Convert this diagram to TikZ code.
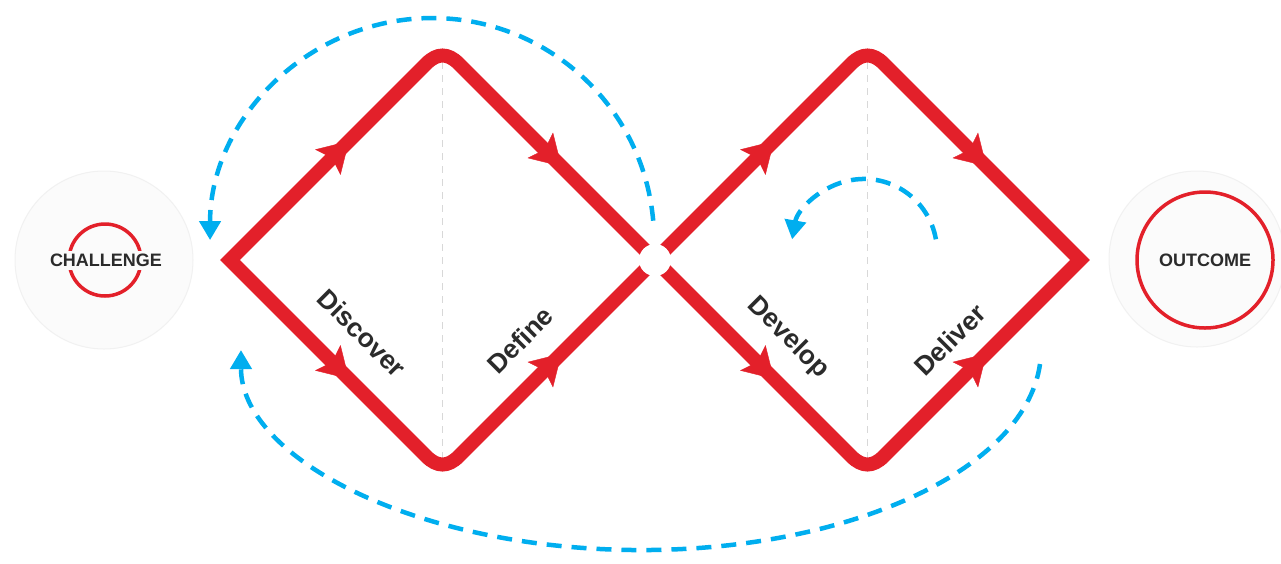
\documentclass[tikz,border=0pt]{standalone}
\usepackage{fontspec}
\setmainfont{Liberation Sans}
\usetikzlibrary{arrows.meta,decorations.markings}
\definecolor{dred}{HTML}{E3202A}
\definecolor{dblue}{HTML}{00AEEF}
\definecolor{dtext}{HTML}{2B2B2B}
\definecolor{dbg}{HTML}{FBFBFB}
\definecolor{dring}{HTML}{F1F1F1}
\definecolor{dgrid}{HTML}{D8D8D8}
\begin{document}
\begin{tikzpicture}[x=1pt,y=-1pt,
  redpath/.style={draw=dred, line width=14pt, line join=miter},
  redtip/.style={postaction={decorate}, decoration={markings,
     mark=at position 0.56 with {\arrow{Stealth[length=30pt,width=36pt,inset=6pt,color=dred]}}}},
  bluedash/.style={draw=dblue, line width=4.5pt, dash pattern=on 15pt off 10pt,
     -{Triangle[length=19pt,width=21pt]}},
  griddash/.style={draw=dgrid, line width=1.2pt, dash pattern=on 7pt off 6pt},
  bgcirc/.style={fill=dbg, draw=dring, line width=1pt},
  phase/.style={font=\bfseries\fontsize{26.5}{26.5}\selectfont, text=dtext, inner sep=0pt},
  endlabel/.style={font=\bfseries\fontsize{18}{18}\selectfont, text=dtext}
]
\fill[white] (0,0) rectangle (1281,563);
\useasboundingbox (0,0) rectangle (1281,563);

% vertices
\coordinate (L1) at (230,260);
\coordinate (T1) at (442.5,47.5);
\coordinate (C)  at (655,260);
\coordinate (B1) at (442.5,472.5);
\coordinate (T2) at (867.5,47.5);
\coordinate (R2) at (1080,260);
\coordinate (B2) at (867.5,472.5);

% background circles
\path[bgcirc] (104,260) circle[radius=89];
\path[bgcirc] (1197,259) circle[radius=88];

% challenge
\draw[dred, line width=3.5pt] (105,260) circle[radius=36];
\node[endlabel, fill=dbg, inner xsep=1pt, inner ysep=3pt, text height=13pt, text depth=0pt] (challenge) at (106,260) {CHALLENGE};

% outcome
\draw[dred, line width=3.5pt] (1205,260) circle[radius=68];
\node[endlabel] (outcome) at (1205,260) {OUTCOME};

% grey dividers
\draw[griddash] (442.5,62) -- (442.5,458);
\draw[griddash] (867.5,62) -- (867.5,458);

% red diamonds
\draw[redpath] (L1) -- (426.5,63.5) .. controls (437.17,52.83) and (447.83,52.83) .. (458.5,63.5)
  -- (C) -- (458.5,456.5) .. controls (447.83,467.17) and (437.17,467.17) .. (426.5,456.5) -- cycle;
\draw[redpath] (C) -- (851.5,63.5) .. controls (862.17,52.83) and (872.83,52.83) .. (883.5,63.5)
  -- (R2) -- (883.5,456.5) .. controls (872.83,467.17) and (862.17,467.17) .. (851.5,456.5) -- cycle;

% arrowheads on edges
\path[redtip] (L1) -- (T1);
\path[redtip] (T1) -- (C);
\path[redtip] (L1) -- (B1);
\path[redtip] (B1) -- (C);
\path[redtip] (C) -- (T2);
\path[redtip] (T2) -- (R2);
\path[redtip] (C) -- (B2);
\path[redtip] (B2) -- (R2);

% junction
\fill[white] (C) circle[radius=16];

% blue dashed loops
\draw[bluedash] (653.2,220.7) arc[start angle=-5, end angle=-180, radius=222];
\draw[bluedash] (935.9,239.3) arc[start angle=-10, end angle=-170, radius=73];
\draw[bluedash] (1040,364) arc[start angle=4, end angle=180, x radius=400, y radius=200];

% phase labels
\node[phase, rotate=-45] (discover) at (362,333) {Discover};
\node[phase, rotate=45]  (define)   at (520,340) {Define};
\node[phase, rotate=-45] (develop)  at (788,338) {Develop};
\node[phase, rotate=45]  (deliver)  at (950,340) {Deliver};
\end{tikzpicture}
\end{document}
